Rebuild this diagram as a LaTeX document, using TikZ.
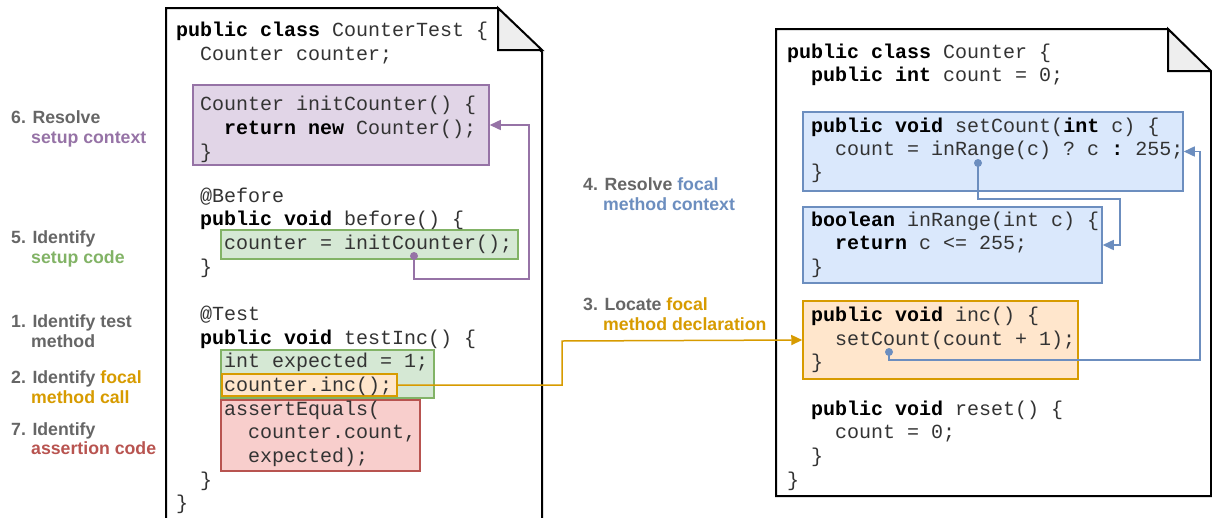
\documentclass[tikz,border=0pt]{standalone}
\usepackage{fontspec}
\setmainfont{Liberation Sans}
\setmonofont{Liberation Mono}
\usetikzlibrary{arrows.meta}

\definecolor{purpfill}{HTML}{E1D5E7}\definecolor{purpline}{HTML}{9673A6}
\definecolor{grnfill}{HTML}{D5E8D4}\definecolor{grnline}{HTML}{82B366}
\definecolor{orgfill}{HTML}{FFE6CC}\definecolor{orgline}{HTML}{D79B00}
\definecolor{redfill}{HTML}{F8CECC}\definecolor{redline}{HTML}{B85450}
\definecolor{blufill}{HTML}{DAE8FC}\definecolor{bluline}{HTML}{6C8EBF}
\definecolor{labgray}{HTML}{666666}
\definecolor{foldgray}{HTML}{EEEEEE}

\tikzset{
  doc/.style={draw=black, line width=2pt, fill=white},
  fold/.style={draw=black, line width=2pt, fill=foldgray, line join=miter},
  codebox/.style={rectangle, inner sep=0pt, line width=1.5pt},
  code/.style={anchor=base west, inner sep=0pt, font=\ttfamily\fontsize{20}{24}\selectfont, text=black!80},
  lab/.style={anchor=base west, inner sep=0pt, font=\bfseries\fontsize{17.7}{20}\selectfont, text=labgray},
  link/.style={line width=1.5pt, -{Triangle[length=11pt,width=10pt]}},
  dot/.style={circle, inner sep=0pt, minimum size=8pt},
}
\newcommand{\kw}[1]{\textbf{\color{black}#1}}

\begin{document}
\begin{tikzpicture}[x=1pt,y=-1pt]
\useasboundingbox (0,0) rectangle (1212,517);
\clip (0,0) rectangle (1212,517);

% ---------- test class document ----------
\draw[doc] (166,540) -- (166,8) -- (498,8) -- (542,52) -- (542,540);
\draw[fold] (498,8) -- (498,50) -- (542,50) -- cycle;

% ---------- production class document ----------
\draw[doc] (776,496) -- (776,29) -- (1168,29) -- (1211,72) -- (1211,496) -- cycle;
\draw[fold] (1168,29) -- (1168,71) -- (1211,71) -- cycle;

% ---------- highlighted regions ----------
\node[codebox, fill=purpfill, draw=purpline, minimum width=296pt, minimum height=80pt] (setupctx) at (341,125) {};
\node[codebox, fill=grnfill, draw=grnline, minimum width=297pt, minimum height=29pt] (setupcode) at (369.5,244.5) {};
\node[codebox, fill=grnfill, draw=grnline, minimum width=213pt, minimum height=48pt] (testcode) at (327.5,374) {};
\node[codebox, fill=orgfill, draw=orgline, minimum width=175pt, minimum height=22pt] (focalcall) at (309.5,385) {};
\node[codebox, fill=redfill, draw=redline, minimum width=199pt, minimum height=71pt] (assertion) at (320.5,435.5) {};

\node[codebox, fill=blufill, draw=bluline, minimum width=380pt, minimum height=79pt] (setcount) at (993,151.5) {};
\node[codebox, fill=blufill, draw=bluline, minimum width=299pt, minimum height=76pt] (inrange) at (952.5,245) {};
\node[codebox, fill=orgfill, draw=orgline, minimum width=275pt, minimum height=78pt] (incdecl) at (940.5,340) {};

% ---------- CounterTest source ----------
\node[code] (a1) at (176,36) {\kw{public class} CounterTest \{};
\node[code] (a2) at (200,60) {Counter counter;};
\node[code] (a3) at (200,110) {Counter initCounter() \{};
\node[code] (a4) at (224,134) {\kw{return new} Counter();};
\node[code] (a5) at (200,158) {\}};
\node[code] (a6) at (200,202) {@Before};
\node[code] (a7) at (200,225) {\kw{public void} before() \{};
\node[code] (a8) at (224,249) {counter = initCounter();};
\node[code] (a9) at (200,273) {\}};
\node[code] (a10) at (200,320) {@Test};
\node[code] (a11) at (200,344) {\kw{public void} testInc() \{};
\node[code] (a12) at (224,367) {int expected = 1;};
\node[code] (a13) at (224,391) {counter.inc();};
\node[code] (a14) at (224,415) {assertEquals(};
\node[code] (a15) at (248,438) {counter.count,};
\node[code] (a16) at (248,462) {expected);};
\node[code] (a17) at (200,486) {\}};
\node[code] (a18) at (176,509) {\}};

% ---------- Counter source ----------
\node[code] (b1) at (787,58) {\kw{public class} Counter \{};
\node[code] (b2) at (811,81) {\kw{public int} count = 0;};
\node[code] (b3) at (811,132) {\kw{public void} setCount(\kw{int} c) \{};
\node[code] (b4) at (835,155) {count = inRange(c) ? c \kw{:} 255;};
\node[code] (b5) at (811,178) {\}};
\node[code] (b6) at (811,226) {\kw{boolean} inRange(int c) \{};
\node[code] (b7) at (835,249) {\kw{return} c <= 255;};
\node[code] (b8) at (811,273) {\}};
\node[code] (b9) at (811,321) {\kw{public void} inc() \{};
\node[code] (b10) at (835,345) {setCount(count + 1);};
\node[code] (b11) at (811,368) {\}};
\node[code] (b12) at (811,415) {\kw{public void} reset() \{};
\node[code] (b13) at (835,438) {count = 0;};
\node[code] (b14) at (811,462) {\}};
\node[code] (b15) at (787,486) {\}};

% ---------- step labels ----------
\node[lab] (s6a) at (11,123) {6. Resolve};
\node[lab, text=purpline] (s6b) at (31,143) {setup context};
\node[lab] (s5a) at (11,243) {5. Identify};
\node[lab, text=grnline] (s5b) at (31,263) {setup code};
\node[lab] (s1a) at (11,327) {1. Identify test};
\node[lab] (s1b) at (31,347) {method};
\node[lab] (s2a) at (11,383) {2. Identify \textcolor{orgline}{focal}};
\node[lab, text=orgline] (s2b) at (31,403) {method call};
\node[lab] (s7a) at (11,435) {7. Identify};
\node[lab, text=redline] (s7b) at (31,454) {assertion code};
\node[lab] (s4a) at (583,190) {4. Resolve \textcolor{bluline}{focal}};
\node[lab, text=bluline] (s4b) at (603,210) {method context};
\node[lab] (s3a) at (583,310) {3. Locate \textcolor{orgline}{focal}};
\node[lab, text=orgline] (s3b) at (603,330) {method declaration};

% ---------- connectors ----------
\coordinate (pturn) at (529,279);
\coordinate (oturn) at (562,341);
\coordinate (bturn1) at (1120,199);
\coordinate (bturn2) at (1200,360);

\node[dot, fill=purpline] (pdot) at (414,256) {};
\draw[link, draw=purpline] (pdot.center) |- (pturn) |- (setupctx.east);

\draw[link, draw=orgline] (focalcall.east) -| (oturn) -- (incdecl.west);

\node[dot, fill=bluline] (bdot1) at (978,163) {};
\draw[link, draw=bluline] (bdot1.center) |- (bturn1) |- (inrange.east);

\node[dot, fill=bluline] (bdot2) at (889,352) {};
\draw[link, draw=bluline] (bdot2.center) |- (bturn2) |- (setcount.east);
\end{tikzpicture}
\end{document}
